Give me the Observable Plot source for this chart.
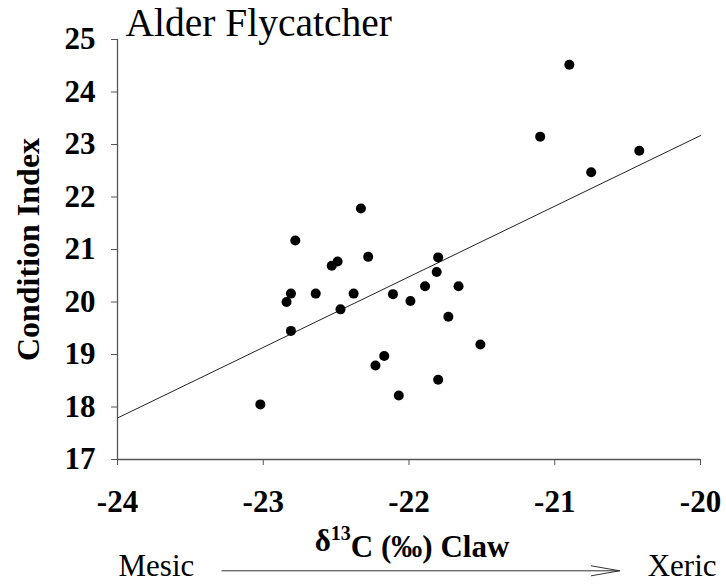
<!DOCTYPE html>
<html>
<head>
<meta charset="utf-8">
<script src="https://cdn.jsdelivr.net/npm/d3@7"></script>
<script src="https://cdn.jsdelivr.net/npm/@observablehq/plot@0.6"></script>
<style>
  html, body { margin: 0; padding: 0; background: #fff; }
</style>
</head>
<body>
<div id="chart"></div>
<script>
// δ13C of claw (‰)
const claw = [-23.02, -22.84, -22.81, -22.81, -22.78, -22.64, -22.53, -22.49, -22.38, -22.33,
  -22.47, -22.28, -21.80, -21.81, -21.89, -21.66, -22.11, -21.99, -21.73, -21.51,
  -22.17, -22.23, -21.80, -22.07, -21.10, -20.90, -20.75, -20.42];
// Condition index
const condition = [18.05, 20.00, 20.16, 19.45, 21.17, 20.16, 20.69, 20.77, 20.16, 21.78,
  19.86, 20.86, 20.85, 20.57, 20.30, 20.30, 20.15, 20.02, 19.72, 19.19,
  18.97, 18.79, 18.52, 18.22, 23.15, 24.52, 22.47, 22.88];
// Regression line end points
const fitX = [-24, -20];
const fitY = [17.79, 23.17];
// Axis ticks
const xTicks = [-24, -23, -22, -21, -20];
const yTicks = [17, 18, 19, 20, 21, 22, 23, 24, 25];
// Gradient arrow (Mesic -> Xeric), in axis units
const arrowX = [-23.283, -20.555];
const arrowY = [14.88, 14.88];

const points = claw.map((c, i) => ({x: c, y: condition[i]}));
const fit = fitX.map((x, i) => ({x, y: fitY[i]}));

const axisColor = "#555";
const serif = "'Liberation Serif', 'Times New Roman', serif";

const chart = Plot.plot({
  width: 726,
  height: 584,
  marginLeft: 117,
  marginRight: 26,
  marginTop: 39,
  marginBottom: 125,
  style: {fontFamily: serif, background: "#fff", color: "#000", overflow: "visible"},
  x: {domain: [-24, -20]},
  y: {domain: [17, 25]},
  marks: [
    Plot.ruleY([17], {stroke: axisColor, strokeWidth: 1.3}),
    Plot.ruleX([-24], {stroke: axisColor, strokeWidth: 1.3}),
    Plot.axisX({ticks: xTicks, tickFormat: d => String(d), tickSize: 6, tickPadding: 24,
      fontSize: 31, fontWeight: "bold", fontFamily: serif, stroke: axisColor, fill: "#000", label: null}),
    Plot.axisY({ticks: yTicks, tickFormat: d => String(d), tickSize: 6, tickPadding: 16,
      fontSize: 31, fontWeight: "bold", fontFamily: serif, stroke: axisColor, fill: "#000", label: null}),
    Plot.line(fit, {x: "x", y: "y", stroke: "#222", strokeWidth: 1}),
    Plot.dot(points, {x: "x", y: "y", r: 5, fill: "#000", stroke: "none"}),
    Plot.text(["Alder Flycatcher"], {frameAnchor: "top-left", dx: 8, dy: -4, textAnchor: "start",
      lineAnchor: "bottom", fontSize: 39.5, fontFamily: serif, fill: "#000"}),
    Plot.text(["Condition Index"], {frameAnchor: "left", dx: -89, rotate: -90, textAnchor: "middle",
      lineAnchor: "middle", fontSize: 32, fontWeight: "bold", fontFamily: serif, fill: "#000"}),
    Plot.text(["δ13C (‰) Claw"], {frameAnchor: "bottom", dx: 3, dy: 91, textAnchor: "middle",
      lineAnchor: "bottom", fontSize: 31, fontWeight: "bold", fontFamily: serif, fill: "#000",
      className: "xlabel"}),
    Plot.text(["Mesic"], {frameAnchor: "bottom-left", dx: 1, dy: 116, textAnchor: "start",
      lineAnchor: "bottom", fontSize: 31, fontFamily: serif, fill: "#000"}),
    Plot.text(["Xeric"], {frameAnchor: "bottom-right", dx: 16, dy: 116, textAnchor: "end",
      lineAnchor: "bottom", fontSize: 31, fontFamily: serif, fill: "#000"}),
    Plot.arrow([{x1: arrowX[0], y1: arrowY[0], x2: arrowX[1], y2: arrowY[1]}],
      {x1: "x1", y1: "y1", x2: "x2", y2: "y2", stroke: "#333", strokeWidth: 1,
       headAngle: 20, headLength: 43, clip: false})
  ]
});

// Render "13" in the x label as a superscript
d3.select(chart).selectAll("g.xlabel text").each(function() {
  const t = d3.select(this);
  t.text(null);
  t.append("tspan").text("δ");
  t.append("tspan").attr("font-size", 20).attr("dy", "-0.55em").text("13");
  t.append("tspan").attr("dy", "0.55em").text("C (‰) Claw");
});

document.getElementById("chart").appendChild(chart);
</script>
</body>
</html>
